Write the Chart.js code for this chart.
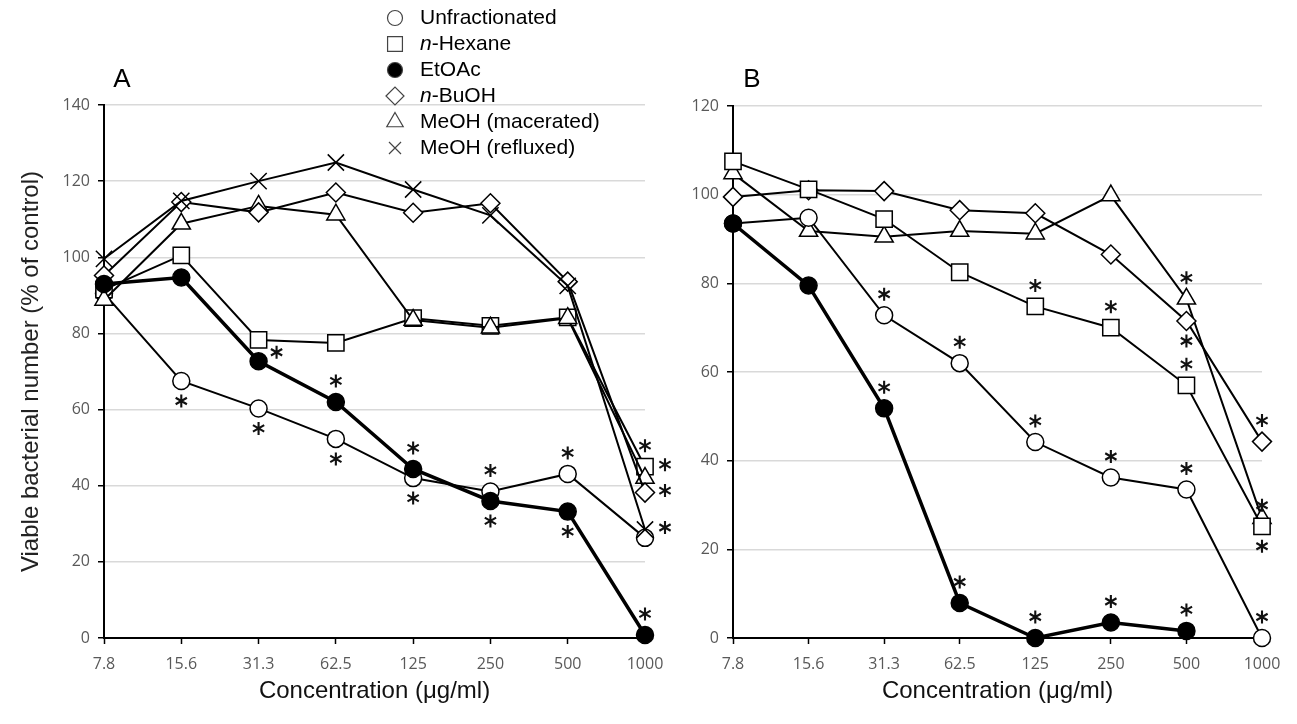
<!DOCTYPE html>
<html>
<head>
<meta charset="utf-8">
<script src="https://cdn.jsdelivr.net/npm/chart.js@4.4.0/dist/chart.umd.min.js"></script>
<style>
  html, body { margin: 0; padding: 0; background: #fff; }
  #wrap { position: relative; width: 1297px; height: 724px; }
  canvas { position: absolute; top: 0; }
</style>
</head>
<body>
<div id="wrap">
  <canvas id="chartA" width="680" height="724" style="left:0"></canvas>
  <canvas id="chartB" width="637" height="724" style="left:660px"></canvas>
</div>
<script>
// Concentrations (µg/ml), same for both panels
const concentrations = ['7.8', '15.6', '31.3', '62.5', '125', '250', '500', '1000'];

// Panel A: fractions (% of control)
const unfractionated = [90.5, 67.5, 60.3, 52.3, 42, 38.5, 43.1, 26.3];
const nHexane        = [91.5, 100.5, 78.3, 77.5, 84, 82, 84.2, 45];
const etoac          = [93, 94.7, 72.7, 62, 44.4, 36, 33.2, 0.8];
const nBuoh          = [95.2, 114.5, 111.8, 117, 111.7, 114.2, 93.6, 38.2];
const meohMacerated  = [88.8, 108.8, 113.5, 111.2, 83.5, 81.5, 84, 42];
const meohRefluxed   = [99.6, 114.8, 120, 124.9, 117.8, 111, 92.5, 28.5];
const yTicksA = [0, 20, 40, 60, 80, 100, 120, 140];

// Panel B: bacteria (% of control)
const pGingivalis = [93.5, 79.5, 51.8, 7.9, 0, 3.5, 1.6, null];
const sMutans     = [93.5, 94.8, 72.8, 62, 44.2, 36.2, 33.5, 0];
const sAureus     = [107.5, 101.2, 94.5, 82.5, 74.8, 70, 57, 25.2];
const fNucleatum  = [104.8, 91.8, 90.5, 91.8, 91.2, 99.8, 76.5, 27];
const eColi       = [99.5, 101, 100.8, 96.5, 95.8, 86.5, 71.5, 44.3];
const yTicksB = [0, 20, 40, 60, 80, 100, 120];

// Significance marks: [dataset, point, where] (a = above, b = below, r = right, ar = upper right)
const starsA = [
  [0, 1, 'b'], [0, 2, 'b'], [0, 3, 'b'], [0, 4, 'b'], [0, 5, 'a'], [0, 6, 'a'],
  [2, 2, 'ar'], [2, 3, 'a'], [2, 4, 'a'], [2, 5, 'b'], [2, 6, 'b'], [2, 7, 'a'],
  [1, 7, 'a'], [1, 7, 'r'], [3, 7, 'r'], [5, 7, 'r'],
];
const starsB = [
  [0, 2, 'a'], [0, 3, 'a'], [0, 4, 'a'], [0, 5, 'a'], [0, 6, 'a'],
  [1, 2, 'a'], [1, 3, 'a'], [1, 4, 'a'], [1, 5, 'a'], [1, 6, 'a'], [1, 7, 'a'],
  [2, 4, 'a'], [2, 5, 'a'], [2, 6, 'a'], [2, 7, 'a'], [2, 7, 'b'],
  [3, 6, 'a'],
  [4, 6, 'b'], [4, 7, 'a'],
];

const SANS = '"Liberation Sans", Arial, sans-serif';
const TICK_FONT = '"Open Sans", sans-serif';
const RADIUS = { circle: 8.5, rect: 11.5, rectRot: 9.5, triangle: 10.5, crossRot: 11.5 };
const STAR_OFFSET = { a: [0, -21], b: [0, 20], r: [20, -2], ar: [18, -9] };

Chart.defaults.font.family = SANS;
Chart.defaults.animation = false;

// order: lower numbers are drawn on top
function series(label, data, style, filled, thick, order) {
  return {
    label,
    data,
    order,
    borderColor: '#000',
    borderWidth: thick ? 3.5 : 2,
    pointStyle: style,
    pointRadius: RADIUS[style],
    pointBackgroundColor: filled ? '#000' : '#fff',
    pointBorderColor: '#000',
    pointBorderWidth: 1.5,
    tension: 0,
    fill: false,
    clip: false,
  };
}

function drawSymbol(ctx, style, x, y, r, filled) {
  ctx.beginPath();
  if (style === 'circle') {
    ctx.arc(x, y, r, 0, Math.PI * 2);
  } else if (style === 'rect') {
    const s = r * Math.SQRT1_2;
    ctx.rect(x - s, y - s, 2 * s, 2 * s);
  } else if (style === 'rectRot') {
    ctx.moveTo(x - r, y); ctx.lineTo(x, y - r); ctx.lineTo(x + r, y); ctx.lineTo(x, y + r);
    ctx.closePath();
  } else if (style === 'triangle') {
    ctx.moveTo(x, y - r);
    ctx.lineTo(x + r * 0.866, y + r * 0.5);
    ctx.lineTo(x - r * 0.866, y + r * 0.5);
    ctx.closePath();
  } else if (style === 'crossRot') {
    const s = r * Math.SQRT1_2;
    ctx.moveTo(x - s, y - s); ctx.lineTo(x + s, y + s);
    ctx.moveTo(x + s, y - s); ctx.lineTo(x - s, y + s);
  }
  if (style !== 'crossRot') {
    ctx.fillStyle = filled ? '#000' : '#fff';
    ctx.fill();
  }
  ctx.stroke();
}

function drawStar(ctx, x, y) {
  const r = 6.5;
  ctx.beginPath();
  for (const deg of [90, 30, 150]) {
    const a = deg * Math.PI / 180;
    ctx.moveTo(x - r * Math.cos(a), y - r * Math.sin(a));
    ctx.lineTo(x + r * Math.cos(a), y + r * Math.sin(a));
  }
  ctx.stroke();
}

// draws asterisks, the in-plot legend and the panel letter
function overlay(letter, stars, legend) {
  return {
    id: 'overlay' + letter,
    afterDraw(chart) {
      const ctx = chart.ctx;
      ctx.save();
      ctx.strokeStyle = '#111';
      ctx.lineWidth = 2.1;
      ctx.lineCap = 'butt';
      for (const [di, pi, where] of stars) {
        const pt = chart.getDatasetMeta(di).data[pi];
        const [dx, dy] = STAR_OFFSET[where];
        drawStar(ctx, pt.x + dx, pt.y + dy);
      }

      ctx.font = '26px ' + SANS;
      ctx.fillStyle = '#000';
      ctx.textAlign = 'center';
      ctx.textBaseline = 'middle';
      ctx.fillText(letter, legend.letterX, 80);

      ctx.textAlign = 'left';
      chart.data.datasets.forEach((ds, i) => {
        const y = legend.y + i * legend.step;
        ctx.strokeStyle = '#444';
        ctx.lineWidth = 1.2;
        drawSymbol(ctx, ds.pointStyle, legend.x, y, legend.r[ds.pointStyle], ds.pointBackgroundColor === '#000');
        ctx.fillStyle = '#000';
        let tx = legend.x + legend.gap;
        let text = ds.label;
        if (!legend.italic && text.startsWith('n-')) {
          ctx.font = 'italic 21px ' + SANS;
          ctx.fillText('n', tx, y);
          tx += ctx.measureText('n').width;
          text = text.slice(1);
        }
        ctx.font = (legend.italic ? 'italic ' : '') + '21px ' + SANS;
        ctx.fillText(text, tx, y);
      });
      ctx.restore();
    },
  };
}

function makeChart(id, datasets, yTicks, yMax, opts) {
  return new Chart(document.getElementById(id), {
    type: 'line',
    data: { labels: concentrations, datasets },
    options: {
      responsive: false,
      animation: false,
      layout: { padding: { left: 0, right: opts.padRight, top: 105 - opts.topShift, bottom: 0 } },
      plugins: { legend: { display: false }, tooltip: { enabled: false } },
      scales: {
        x: {
          type: 'category',
          offset: false,
          grid: { display: true, drawOnChartArea: false, drawTicks: true, tickLength: 6, tickColor: '#000', tickWidth: 1.5 },
          border: { color: '#000', width: 2 },
          ticks: { color: '#595959', padding: 11, font: { family: TICK_FONT, size: 16 }, maxRotation: 0, autoSkip: false },
          title: { display: true, text: 'Concentration (\u03bcg/ml)', color: '#111', font: { family: SANS, size: 24 }, padding: { top: 0, bottom: 18 } },
          afterFit(scale) { scale.height = 86; },
        },
        y: {
          min: 0,
          max: yMax,
          afterBuildTicks(scale) { scale.ticks = yTicks.map(v => ({ value: v })); },
          grid: { color: '#d9d9d9', lineWidth: 1.5, tickLength: 6, tickColor: '#000', tickWidth: 1.5 },
          border: { color: '#000', width: 2 },
          ticks: { color: '#595959', padding: 8, font: { family: TICK_FONT, size: 16 } },
          title: {
            display: opts.yTitle,
            text: 'Viable bacterial number (% of control)',
            color: '#222',
            font: { family: SANS, size: 24 },
            padding: { top: 17, bottom: 0 },
          },
          afterFit(scale) { scale.width = opts.yWidth; },
        },
      },
    },
    plugins: [overlay(opts.letter, opts.stars, opts.legend)],
  });
}

makeChart('chartA', [
  series('Unfractionated', unfractionated, 'circle', false, false, 6),
  series('n-Hexane', nHexane, 'rect', false, false, 5),
  series('EtOAc', etoac, 'circle', true, true, 2),
  series('n-BuOH', nBuoh, 'rectRot', false, false, 3),
  series('MeOH (macerated)', meohMacerated, 'triangle', false, false, 4),
  series('MeOH (refluxed)', meohRefluxed, 'crossRot', false, false, 1),
], yTicksA, 140, {
  padRight: 35, topShift: 0, yWidth: 104, yTitle: true, letter: 'A', stars: starsA,
  legend: { x: 395, y: 18, step: 26, gap: 25, italic: false, letterX: 122,
            r: { circle: 7.5, rect: 10.5, rectRot: 9, triangle: 9.5, crossRot: 8.5 } },
});

makeChart('chartB', [
  series('Porphyromonas gingivalis', pGingivalis, 'circle', true, true, 1),
  series('Streptococcus mutans', sMutans, 'circle', false, false, 4),
  series('Staphylococcus aureus', sAureus, 'rect', false, false, 2),
  series('Fusobacterium nucleatum', fNucleatum, 'triangle', false, false, 5),
  series('Escherichia coli', eColi, 'rectRot', false, false, 3),
], yTicksB, 120, {
  padRight: 35, topShift: -1, yWidth: 73, yTitle: false, letter: 'B', stars: starsB,
  legend: { x: 892, y: 37, step: 25.3, gap: 23, italic: true, letterX: 92,
            r: { circle: 7.5, rect: 10.5, rectRot: 9, triangle: 9.5, crossRot: 8.5 } },
});
</script>
</body>
</html>
